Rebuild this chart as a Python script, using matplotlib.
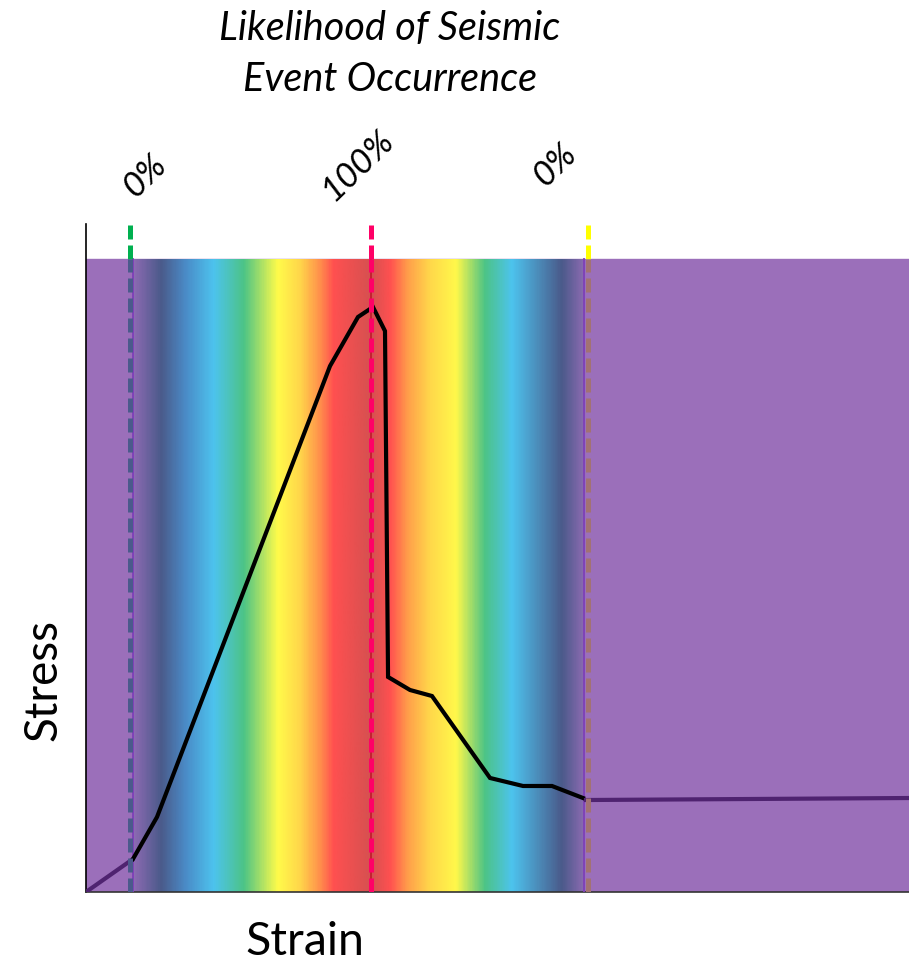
import numpy as np
import matplotlib
matplotlib.use("Agg")
import matplotlib.pyplot as plt
from matplotlib.patches import Rectangle
from matplotlib.colors import LinearSegmentedColormap

plt.rcParams['font.family'] = ['Lato', 'DejaVu Sans']

# stress-strain curve (arbitrary units, 0-100 on both axes)
strain_pre = [0.0, 5.71]
stress_pre = [0.0, 4.94]
strain_main = [5.71, 8.63, 29.65, 33.05, 34.87, 36.33, 36.70, 39.37, 42.04, 49.09, 53.10, 56.62, 60.39]
stress_main = [4.94, 11.23, 78.74, 86.08, 87.57, 83.98, 32.19, 30.24, 29.34, 17.07, 15.87, 15.87, 14.07]
strain_post = [60.75, 100.0]
stress_post = [13.77, 14.07]

# likelihood markers
marker_x = [5.35, 34.63, 61.0]
marker_labels = ['0%', '100%', '0%']
label_x = [7.17, 33.05, 56.99]
label_y = [107.3, 109.0, 109.0]

# gradient band
band_left, band_right, band_top = 5.71, 60.51, 94.76
stop_x = [5.71, 8.99, 12.03, 15.43, 19.08, 23.21, 26.00, 28.43, 30.01, 34.63,
          36.94, 39.12, 41.80, 44.96, 48.48, 51.76, 57.84, 60.51]
stop_colors = ['#8C6AB2', '#4A5A8A', '#4A8CC8', '#4DC3EE', '#4CC486', '#FFFB4A',
               '#FFD54A', '#FF8C4C', '#FF5050', '#D55050', '#FF5050', '#FFA04A',
               '#FFD84A', '#FFF84A', '#4CC486', '#4DC3EE', '#4A5A8A', '#8A6AB0']

purple = '#9B6FBA'

fig = plt.figure(figsize=(9.09, 9.62), dpi=100)
ax = fig.add_axes([86/909, 69/962, 823/909, 668/962])
ax.set_xlim(0, 100)
ax.set_ylim(0, 100)

ax.add_patch(Rectangle((0, 0), 100, band_top, color=purple, zorder=1))

pos = [(s - band_left) / (band_right - band_left) for s in stop_x]
cmap = LinearSegmentedColormap.from_list('band', list(zip(pos, stop_colors)))
grad = np.linspace(0, 1, 600).reshape(1, -1)
ax.imshow(grad, cmap=cmap, extent=[band_left, band_right, 0, band_top],
          aspect='auto', zorder=2, interpolation='bilinear')

# thin edge lines of the band
ax.plot([band_left, band_left], [0, band_top], color='#7E3FB8', lw=1.3, zorder=3)
ax.plot([marker_x[1], marker_x[1]], [0, band_top], color='#C0182A', lw=1.2, zorder=3)
ax.plot([band_right, band_right], [0, band_top], color='#7E3FB8', lw=1.3, zorder=3)

# curve
ax.plot(strain_pre, stress_pre, color='#4F2370', lw=3, zorder=4, solid_capstyle='round')
ax.plot(strain_main, stress_main, color='black', lw=3, zorder=4, solid_joinstyle='miter')
ax.plot(strain_post, stress_post, color='#4F2370', lw=3, zorder=4)

# dashed marker lines
top_colors = ['#00B050', '#FF0066', '#FFFF00']
inside_colors = ['#4B5A8C', '#FF0066', '#A27272']
for x, c_top, c_in in zip(marker_x, top_colors, inside_colors):
    ax.plot([x, x], [band_top, 100], color=c_top, lw=3.6, dashes=(2.8, 1.2), zorder=5)
    ax.plot([x, x], [0, band_top], color=c_in, lw=3.6, dashes=(2.8, 1.2), zorder=5)

for x, y, t in zip(label_x, label_y, marker_labels):
    ax.text(x, y, t, rotation=44, ha='center', va='center', fontsize=25,
            style='italic', clip_on=False)

for side in ['top', 'right']:
    ax.spines[side].set_visible(False)
ax.spines['left'].set_linewidth(1.2)
ax.spines['bottom'].set_linewidth(1.2)
ax.spines['bottom'].set_color('#333333')
ax.set_xticks([])
ax.set_yticks([])

fig.text(390/909, (962-54)/962, 'Likelihood of Seismic\nEvent Occurrence',
         ha='center', va='center', fontsize=28.5, style='italic', linespacing=1.45)
fig.text(44/909, (962-680)/962, 'Stress', rotation=90, ha='center', va='center', fontsize=33)
fig.text(305/909, 7/962, 'Strain', ha='center', va='baseline', fontsize=33.5)

fig.savefig('out.png', dpi=100)
